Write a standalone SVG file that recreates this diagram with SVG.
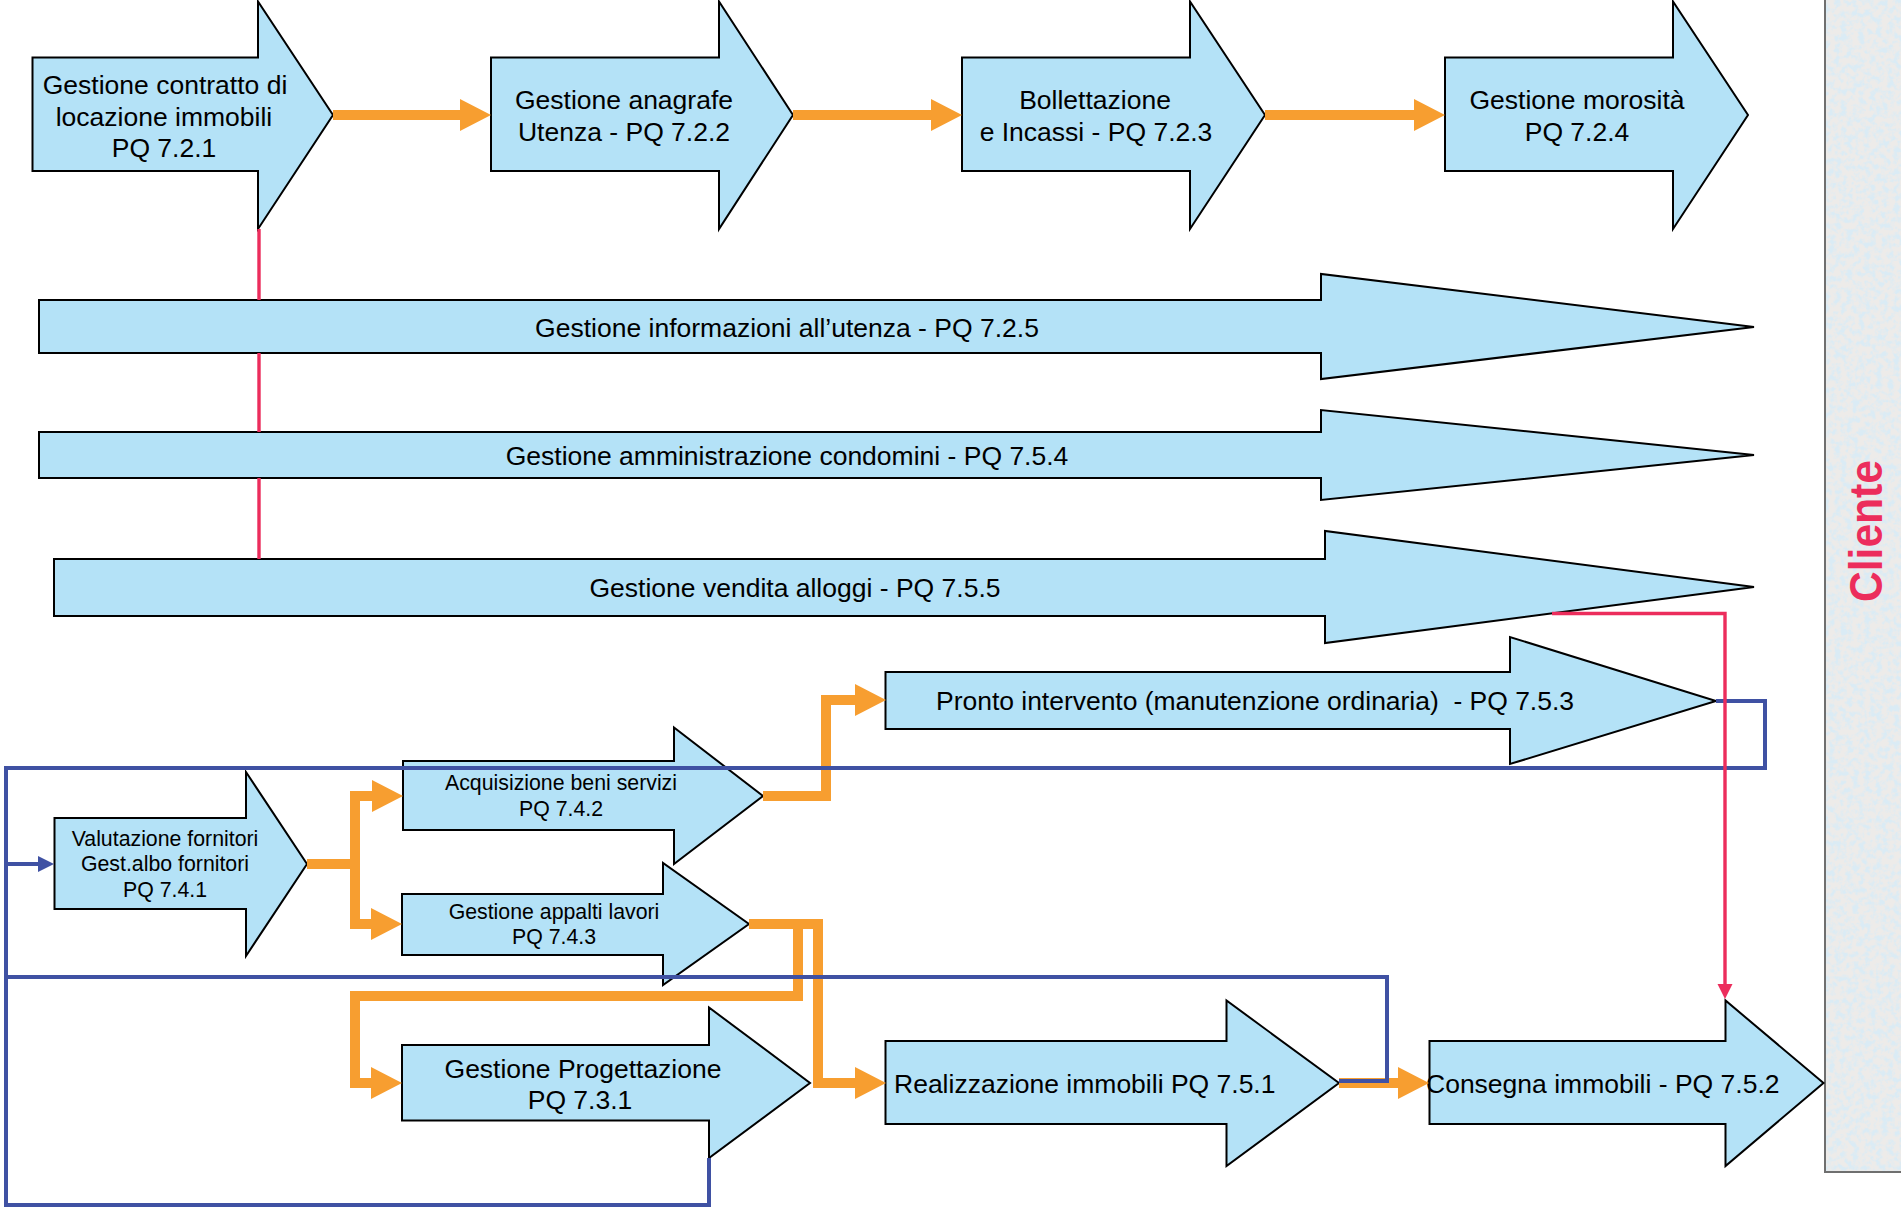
<svg xmlns="http://www.w3.org/2000/svg" width="1901" height="1207" viewBox="0 0 1901 1207">
<defs>
<style>
.node{fill:#B4E2F7;stroke:#000;stroke-width:2;stroke-linejoin:miter}
.t{font-family:"Liberation Sans",Arial,sans-serif;font-size:26.5px;fill:#000;text-anchor:middle}
.ts{font-family:"Liberation Sans",Arial,sans-serif;font-size:21.3px;fill:#000;text-anchor:middle}
.or{fill:none;stroke:#F79E30;stroke-width:10;stroke-linejoin:miter;stroke-linecap:butt}
.bl{fill:none;stroke:#3F51A3;stroke-width:4;stroke-linejoin:miter}
.rd{fill:none;stroke:#EC2D5C;stroke-width:3.4;stroke-linejoin:miter}
</style>
<marker id="oa" markerUnits="userSpaceOnUse" markerWidth="32" markerHeight="32" refX="0" refY="16" orient="auto" overflow="visible"><path d="M0,0 L31,16 L0,32 Z" fill="#F79E30"/></marker>
<marker id="ba" markerUnits="userSpaceOnUse" markerWidth="16" markerHeight="18" refX="0" refY="8" orient="auto" overflow="visible"><path d="M0,0 L16,8 L0,16 Z" fill="#3F51A3"/></marker>
<marker id="ra" markerUnits="userSpaceOnUse" markerWidth="15" markerHeight="16" refX="0" refY="7.5" orient="auto" overflow="visible"><path d="M0,0 L15,7.5 L0,15 Z" fill="#EC2D5C"/></marker>
<filter id="granite" x="0" y="0" width="100%" height="100%">
<feTurbulence type="fractalNoise" baseFrequency="0.17" numOctaves="3" seed="4" result="n"/>
<feColorMatrix in="n" type="matrix" values="0 0 0 0 0.70  0 0 0 0 0.83  0 0 0 0 0.91  0 0 0 3.4 -1.4" result="spots"/>
<feFlood flood-color="#EDEBE9" result="base"/>
<feComposite in="spots" in2="base" operator="over" result="c"/>
<feComposite in="c" in2="SourceGraphic" operator="in"/>
</filter>
</defs>
<rect width="1901" height="1207" fill="#fff"/>

<g id="cliente">
<rect x="1825" y="-2" width="80" height="1174" fill="#E6E9EA" filter="url(#granite)"/>
<path d="M1825,0 V1172 H1901" fill="none" stroke="#6F6F6F" stroke-width="2"/>
<text transform="translate(1882,531) rotate(-90)" font-family="Liberation Sans,Arial,sans-serif" font-weight="bold" font-size="46" fill="#EC2D5C" text-anchor="middle" textLength="142" lengthAdjust="spacingAndGlyphs">Cliente</text>
</g>

<g id="n721">
<path class="node" d="M32.5,57.5 H258 V1.5 L333,115 L258,229 V171 H32.5 Z"/>
<text class="t" x="165" y="94">Gestione contratto di</text>
<text class="t" x="164" y="126">locazione immobili</text>
<text class="t" x="164" y="157">PQ 7.2.1</text>
</g>
<g id="n722">
<path class="node" d="M491,57.5 H719 V1.5 L793,115 L719,229 V171 H491 Z"/>
<text class="t" x="624" y="109">Gestione anagrafe</text>
<text class="t" x="624" y="141">Utenza - PQ 7.2.2</text>
</g>
<g id="n723">
<path class="node" d="M962,57.5 H1190 V1.5 L1265,115 L1190,229 V171 H962 Z"/>
<text class="t" x="1095" y="109">Bollettazione</text>
<text class="t" x="1096" y="141">e Incassi - PQ 7.2.3</text>
</g>
<g id="n724">
<path class="node" d="M1445,57.5 H1673 V1.5 L1748,115 L1673,229 V171 H1445 Z"/>
<text class="t" x="1577" y="109">Gestione morosità</text>
<text class="t" x="1577" y="141">PQ 7.2.4</text>
</g>
<g id="n725">
<path class="node" d="M39,300 H1321 V274 L1754,327 L1321,379 V353 H39 Z"/>
<text class="t" x="787" y="337">Gestione informazioni all’utenza - PQ 7.2.5</text>
</g>
<g id="n754">
<path class="node" d="M39,432 H1321 V410 L1754,455 L1321,500 V478 H39 Z"/>
<text class="t" x="787" y="465">Gestione amministrazione condomini - PQ 7.5.4</text>
</g>
<g id="n755">
<path class="node" d="M54,559 H1325 V531 L1754,587 L1325,643 V616 H54 Z"/>
<text class="t" x="795" y="597">Gestione vendita alloggi - PQ 7.5.5</text>
</g>
<g id="n753">
<path class="node" d="M885.5,672 H1510 V637 L1716,701 L1510,764 V729 H885.5 Z"/>
<text class="t" x="936" y="710" style="text-anchor:start" xml:space="preserve" textLength="638">Pronto intervento (manutenzione ordinaria)  - PQ 7.5.3</text>
</g>
<g id="n742">
<path class="node" d="M403,761 H674 V727.5 L763,796 L674,864 V830 H403 Z"/>
<text class="ts" x="561" y="790">Acquisizione beni servizi</text>
<text class="ts" x="561" y="816">PQ 7.4.2</text>
</g>
<g id="n741">
<path class="node" d="M54.5,818 H246 V772 L307,864 L246,956 V909 H54.5 Z"/>
<text class="ts" x="165" y="846">Valutazione fornitori</text>
<text class="ts" x="165" y="871">Gest.albo fornitori</text>
<text class="ts" x="165" y="897">PQ 7.4.1</text>
</g>
<g id="n743">
<path class="node" d="M402,894 H663 V863 L749,924 L663,985 V955 H402 Z"/>
<text class="ts" x="554" y="919">Gestione appalti lavori</text>
<text class="ts" x="554" y="944">PQ 7.4.3</text>
</g>
<g id="n731">
<path class="node" d="M402,1045 H709 V1007.5 L810,1083 L709,1158 V1120.5 H402 Z"/>
<text class="t" x="583" y="1078">Gestione Progettazione</text>
<text class="t" x="580" y="1109">PQ 7.3.1</text>
</g>
<g id="n751">
<path class="node" d="M885.5,1041 H1226.5 V1000.5 L1339,1083 L1226.5,1166 V1124 H885.5 Z"/>
<text class="t" x="894" y="1093" style="text-anchor:start">Realizzazione immobili PQ 7.5.1</text>
</g>
<g id="n752">
<path class="node" d="M1429.5,1041 H1725.5 V1000.5 L1823.5,1083 L1725.5,1166 V1124 H1429.5 Z"/>
<text class="t" x="1426" y="1093" style="text-anchor:start">Consegna immobili - PQ 7.5.2</text>
</g>

<g id="connectors">
<path class="or" d="M333,115 H460" marker-end="url(#oa)"/>
<path class="or" d="M793,115 H931" marker-end="url(#oa)"/>
<path class="or" d="M1265,115 H1414" marker-end="url(#oa)"/>
<path class="or" d="M307,864 H355 V796 H372" marker-end="url(#oa)"/>
<path class="or" d="M355,860 V924 H371" marker-end="url(#oa)"/>
<path class="or" d="M763,796 H826 V700 H855" marker-end="url(#oa)"/>
<path class="or" d="M749,924 H818 V1083 H855" marker-end="url(#oa)"/>
<path class="or" d="M798,924 V996 H355 V1083 H371" marker-end="url(#oa)"/>
<path class="or" d="M1339,1083 H1398" marker-end="url(#oa)"/>
<path class="bl" d="M1716,701 H1765 V768 H6 V1205 H709 V1158"/>
<path class="bl" d="M1339,1081 H1387 V977 H6"/>
<path class="bl" d="M6,864 H38" marker-end="url(#ba)"/>
<path class="rd" d="M259,229 V300 M259,353 V432 M259,478 V559"/>
<path class="rd" d="M1552,613.5 H1725 V984" marker-end="url(#ra)"/>
</g>
</svg>
